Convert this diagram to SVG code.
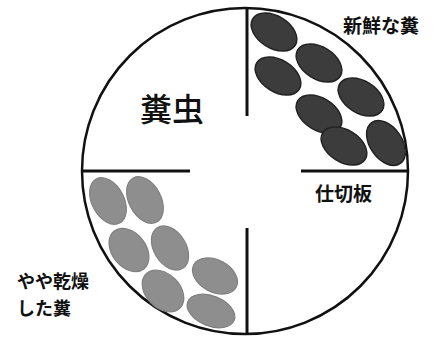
<svg xmlns="http://www.w3.org/2000/svg" width="438" height="337" viewBox="0 0 438 337">
<defs>
<style>
.ring{fill:#fff;stroke:#111;stroke-width:2.5}
.wall{stroke:#111;stroke-width:3;fill:none}
.fresh{fill:#3c3c3c;stroke:#222;stroke-width:1.5}
.dry{fill:#8e8e8e;stroke:#808080;stroke-width:1.2}
.lbl{font-family:"Noto Sans CJK JP","Noto Sans CJK SC",sans-serif;font-weight:bold;font-size:19px;fill:#111}
.sm{font-size:18px}
.big{font-family:"Noto Sans CJK JP","Noto Sans CJK SC",sans-serif;font-weight:500;font-size:32px;fill:#111}
</style>
<clipPath id="c"><circle cx="245" cy="171" r="162"/></clipPath>
</defs>
<rect width="438" height="337" fill="#fff"/>
<g id="arena"><circle class="ring" cx="245" cy="171" r="163"/></g>
<g id="fresh-dung" clip-path="url(#c)">
<ellipse class="fresh" cx="274" cy="32" rx="25" ry="16" transform="rotate(32 274 32)"/>
<ellipse class="fresh" cx="319" cy="63" rx="25" ry="16" transform="rotate(32 319 63)"/>
<ellipse class="fresh" cx="278" cy="76" rx="25" ry="16" transform="rotate(32 278 76)"/>
<ellipse class="fresh" cx="361" cy="97" rx="25" ry="16" transform="rotate(32 361 97)"/>
<ellipse class="fresh" cx="319" cy="114" rx="25" ry="16" transform="rotate(32 319 114)"/>
<ellipse class="fresh" cx="344" cy="146" rx="25" ry="16" transform="rotate(32 344 146)"/>
<ellipse class="fresh" cx="386" cy="143" rx="25" ry="16" transform="rotate(55 386 143)"/>
</g>
<g id="dry-dung">
<ellipse class="dry" cx="108" cy="201" rx="25" ry="16" transform="rotate(62 108 201)"/>
<ellipse class="dry" cx="145" cy="200" rx="25" ry="16" transform="rotate(62 145 200)"/>
<ellipse class="dry" cx="129" cy="250" rx="24" ry="17" transform="rotate(52 129 250)"/>
<ellipse class="dry" cx="170" cy="248" rx="24" ry="16" transform="rotate(58 170 248)"/>
<ellipse class="dry" cx="215" cy="276" rx="24" ry="16" transform="rotate(28 215 276)"/>
<ellipse class="dry" cx="163" cy="291" rx="24" ry="17" transform="rotate(45 163 291)"/>
<ellipse class="dry" cx="211" cy="311" rx="25" ry="15" transform="rotate(22 211 311)"/>
</g>
<g id="partitions">
<line class="wall" x1="247" y1="8" x2="247" y2="116"/>
<line class="wall" x1="247" y1="228" x2="247" y2="334"/>
<line class="wall" x1="83" y1="171" x2="190" y2="171"/>
<line class="wall" x1="301" y1="171" x2="408" y2="171"/>
</g>
<g id="labels">
<text class="big" x="140" y="121">糞虫</text>
<text class="lbl" x="343" y="33">新鮮な糞</text>
<text class="lbl" x="315" y="201">仕切板</text>
<text class="lbl sm" x="17" y="288">やや乾燥</text>
<text class="lbl sm" x="17" y="315">した糞</text>
</g>
</svg>
